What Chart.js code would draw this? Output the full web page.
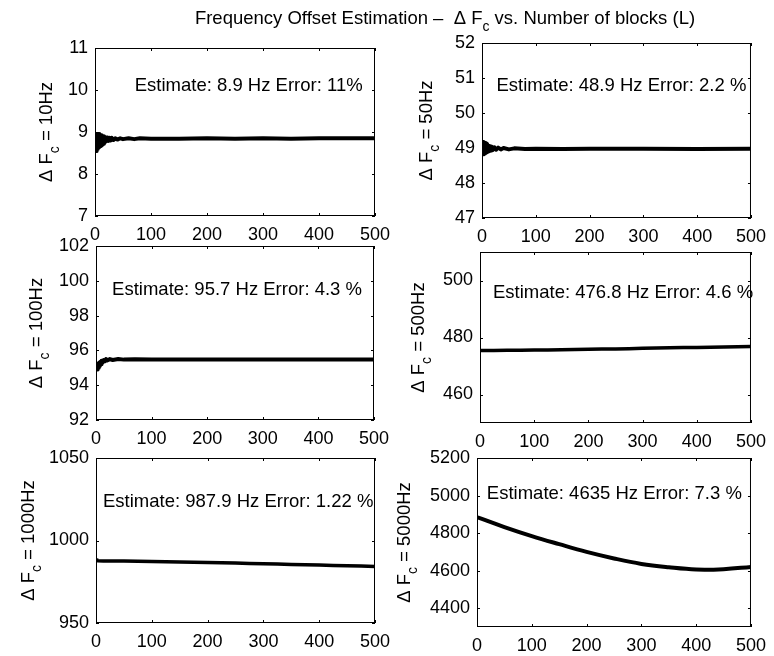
<!DOCTYPE html>
<html>
<head>
<meta charset="utf-8">
<title>Frequency Offset Estimation</title>
<script src="https://cdn.jsdelivr.net/npm/chart.js@4.4.0/dist/chart.umd.min.js"></script>
<style>
  html, body { margin: 0; padding: 0; background: #fff; }
  #figure { position: relative; width: 774px; height: 656px; }
  #figure canvas { position: absolute; left: 0; top: 0; }
</style>
</head>
<body>
<div id="figure"></div>
<script>
// number of blocks L (shared x axis)
const blockTicks = [0, 100, 200, 300, 400, 500];

// ΔFc = 10 Hz
const blocks10 = [1, 2, 3, 4, 5, 6, 7, 8, 9, 10, 11, 12, 13, 14, 15, 16, 17, 18, 20, 22, 24, 26, 28, 30, 33, 36, 40, 45, 50, 60, 70, 80, 100, 150, 200, 250, 300, 350, 400, 450, 500];
const est10 = [8.50, 8.93, 8.55, 8.95, 8.60, 8.92, 8.63, 8.95, 8.66, 8.90, 8.68, 8.92, 8.70, 8.88, 8.72, 8.90, 8.74, 8.88, 8.78, 8.87, 8.79, 8.86, 8.80, 8.86, 8.81, 8.85, 8.82, 8.85, 8.83, 8.85, 8.83, 8.85, 8.84, 8.84, 8.85, 8.84, 8.85, 8.84, 8.85, 8.85, 8.85];
const yTicks10 = [7, 8, 9, 10, 11];
const yLim10 = [7, 11];

// ΔFc = 50 Hz
const blocks50 = [1, 2, 3, 4, 5, 6, 7, 8, 9, 10, 12, 14, 16, 18, 20, 23, 26, 30, 35, 40, 50, 60, 80, 100, 150, 200, 300, 400, 500];
const est50 = [48.80, 49.17, 48.82, 49.15, 48.84, 49.14, 48.86, 49.12, 48.88, 49.10, 48.90, 49.06, 48.92, 49.04, 48.94, 49.02, 48.95, 49.01, 48.96, 49.00, 48.96, 48.99, 48.97, 48.98, 48.97, 48.98, 48.98, 48.97, 48.98];
const yTicks50 = [47, 48, 49, 50, 51, 52];
const yLim50 = [47, 52];

// ΔFc = 100 Hz
const blocks100 = [1, 2, 3, 4, 5, 6, 7, 8, 9, 10, 12, 14, 16, 18, 20, 25, 30, 40, 50, 70, 100, 200, 300, 400, 500];
const est100 = [94.85, 95.20, 94.90, 95.25, 95.00, 95.30, 95.10, 95.35, 95.20, 95.40, 95.30, 95.45, 95.38, 95.50, 95.42, 95.50, 95.45, 95.50, 95.47, 95.49, 95.48, 95.48, 95.48, 95.48, 95.48];
const yTicks100 = [92, 94, 96, 98, 100, 102];
const yLim100 = [92, 102];

// ΔFc = 500 Hz
const blocks500 = [1, 50, 100, 150, 200, 250, 300, 350, 400, 450, 500];
const est500 = [475.4, 475.5, 475.6, 475.7, 475.9, 476.0, 476.2, 476.4, 476.5, 476.7, 476.8];
const yTicks500 = [460, 480, 500];
const yLim500 = [450, 510];

// ΔFc = 1000 Hz
const blocks1000 = [1, 3, 50, 100, 150, 200, 250, 300, 350, 400, 450, 500];
const est1000 = [988.8, 987.8, 987.6, 987.3, 987.0, 986.7, 986.3, 985.9, 985.5, 985.1, 984.7, 984.3];
const yTicks1000 = [950, 1000, 1050];
const yLim1000 = [950, 1050];

// ΔFc = 5000 Hz
const blocks5000 = [1, 50, 100, 150, 200, 250, 300, 350, 400, 450, 500];
const est5000 = [4884, 4832, 4784, 4741, 4700, 4665, 4636, 4618, 4606, 4608, 4620];
const yTicks5000 = [4400, 4600, 4800, 5000, 5200];
const yLim5000 = [4300, 5200];

const trueFreqs = [10, 50, 100, 500, 1000, 5000];
const estimateLabels = ['8.9', '48.9', '95.7', '476.8', '987.9', '4635'];
const errorLabels = ['11%', '2.2 %', '4.3 %', '4.6 %', '1.22 %', '7.3 %'];

const W = 774, H = 656;
const FAMILY = '"Liberation Sans", Arial, Helvetica, sans-serif';
const TEXT_FONT = '18.5px ' + FAMILY;
const SUB_FONT = '14px ' + FAMILY;
const SUB_DROP = 7;
const TICK_LEN = 3;

// axes boxes in page pixels, y-label baseline, note anchor in data units
const panels = [
  { x: blocks10, y: est10, ticks: yTicks10, lim: yLim10, box: { l: 95, t: 48, r: 375, b: 216 }, labelX: 52, note: [71, 9.98], width: 4, smooth: false },
  { x: blocks50, y: est50, ticks: yTicks50, lim: yLim50, box: { l: 482, t: 43, r: 757, b: 218 }, labelX: 432, note: [27, 50.63], width: 4, smooth: false },
  { x: blocks100, y: est100, ticks: yTicks100, lim: yLim100, box: { l: 96, t: 246, r: 374, b: 420 }, labelX: 42, note: [29, 99.18], width: 4, smooth: false },
  { x: blocks500, y: est500, ticks: yTicks500, lim: yLim500, box: { l: 480, t: 252, r: 756, b: 423 }, labelX: 424, note: [24, 493.9], width: 3.5, smooth: true },
  { x: blocks1000, y: est1000, ticks: yTicks1000, lim: yLim1000, box: { l: 96, t: 458, r: 375, b: 623 }, labelX: 34, note: [12.5, 1020.3], width: 3.5, smooth: true },
  { x: blocks5000, y: est5000, ticks: yTicks5000, lim: yLim5000, box: { l: 477, t: 458, r: 752, b: 627 }, labelX: 410, note: [18, 4982], width: 4, smooth: true }
];

function runsWidth(ctx, runs) {
  let w = 0;
  runs.forEach(r => {
    ctx.font = r.sub ? SUB_FONT : TEXT_FONT;
    w += ctx.measureText(r.text).width;
  });
  return w;
}

function drawRuns(ctx, runs, x, y) {
  runs.forEach(r => {
    ctx.font = r.sub ? SUB_FONT : TEXT_FONT;
    ctx.fillText(r.text, x, r.sub ? y + SUB_DROP : y);
    x += ctx.measureText(r.text).width;
  });
}

const figureTitle = {
  id: 'figureTitle',
  afterDraw(chart) {
    const ctx = chart.ctx;
    const runs = [
      { text: 'Frequency Offset Estimation –  Δ F' },
      { text: 'c', sub: true },
      { text: ' vs. Number of blocks (L)' }
    ];
    ctx.save();
    ctx.fillStyle = '#000';
    ctx.textAlign = 'left';
    ctx.textBaseline = 'alphabetic';
    drawRuns(ctx, runs, 445 - runsWidth(ctx, runs) / 2, 24);
    ctx.restore();
  }
};

function makeAxesPlugin(p, i) {
  return {
    id: 'axesBox' + i,
    afterDraw(chart) {
      const { ctx, chartArea: a, scales } = chart;
      const xs = scales.x, ys = scales.y;
      ctx.save();
      ctx.strokeStyle = '#000';
      ctx.lineWidth = 1;
      ctx.strokeRect(a.left + 0.5, a.top + 0.5, a.right - a.left - 1, a.bottom - a.top - 1);

      // MATLAB style inward ticks on all four sides
      ctx.beginPath();
      xs.ticks.forEach(t => {
        const px = Math.round(xs.getPixelForValue(t.value)) + 0.5;
        ctx.moveTo(px, a.bottom); ctx.lineTo(px, a.bottom - TICK_LEN);
        ctx.moveTo(px, a.top); ctx.lineTo(px, a.top + TICK_LEN);
      });
      ys.ticks.forEach(t => {
        const py = Math.round(ys.getPixelForValue(t.value)) + 0.5;
        ctx.moveTo(a.left, py); ctx.lineTo(a.left + TICK_LEN, py);
        ctx.moveTo(a.right, py); ctx.lineTo(a.right - TICK_LEN, py);
      });
      ctx.stroke();

      ctx.fillStyle = '#000';
      ctx.textAlign = 'left';
      ctx.textBaseline = 'alphabetic';

      // rotated y label: Δ F_c = nHz
      const label = [
        { text: 'Δ F' },
        { text: 'c', sub: true },
        { text: ' = ' + trueFreqs[i] + 'Hz' }
      ];
      ctx.save();
      ctx.translate(p.labelX, (a.top + a.bottom) / 2);
      ctx.rotate(-Math.PI / 2);
      drawRuns(ctx, label, -runsWidth(ctx, label) / 2, 0);
      ctx.restore();

      ctx.font = TEXT_FONT;
      ctx.fillText('Estimate: ' + estimateLabels[i] + ' Hz Error: ' + errorLabels[i],
        xs.getPixelForValue(p.note[0]), ys.getPixelForValue(p.note[1]));
      ctx.restore();
    }
  };
}

const tickFont = { family: FAMILY, size: 18 };
const figure = document.getElementById('figure');

panels.forEach((p, i) => {
  const canvas = document.createElement('canvas');
  canvas.width = W;
  canvas.height = H;
  canvas.style.width = W + 'px';
  canvas.style.height = H + 'px';
  figure.appendChild(canvas);

  const plugins = [makeAxesPlugin(p, i)];
  if (i === 0) plugins.push(figureTitle);

  new Chart(canvas.getContext('2d'), {
    type: 'line',
    data: {
      datasets: [{
        data: p.x.map((v, k) => ({ x: v, y: p.y[k] })),
        borderColor: '#000',
        borderWidth: p.width,
        pointRadius: 0,
        fill: false,
        tension: p.smooth ? 0.4 : 0,
        borderJoinStyle: 'round'
      }]
    },
    plugins: plugins,
    options: {
      responsive: false,
      devicePixelRatio: 1,
      animation: false,
      events: [],
      layout: { padding: { left: 0, top: p.box.t, right: W - p.box.r, bottom: 0 } },
      plugins: { legend: { display: false }, tooltip: { enabled: false }, title: { display: false } },
      scales: {
        x: {
          type: 'linear',
          min: 0,
          max: 500,
          afterBuildTicks: s => { s.ticks = blockTicks.map(v => ({ value: v })); },
          afterFit: s => { s.height = H - p.box.b; },
          grid: { display: false, drawTicks: false },
          border: { display: false },
          ticks: { font: tickFont, color: '#000', padding: 8, maxRotation: 0, autoSkip: false, callback: v => String(v) }
        },
        y: {
          type: 'linear',
          min: p.lim[0],
          max: p.lim[1],
          afterBuildTicks: s => { s.ticks = p.ticks.map(v => ({ value: v })); },
          afterFit: s => { s.width = p.box.l; },
          grid: { display: false, drawTicks: false },
          border: { display: false },
          ticks: { font: tickFont, color: '#000', padding: 7, autoSkip: false, callback: v => String(v) }
        }
      }
    }
  });
});
</script>
</body>
</html>
